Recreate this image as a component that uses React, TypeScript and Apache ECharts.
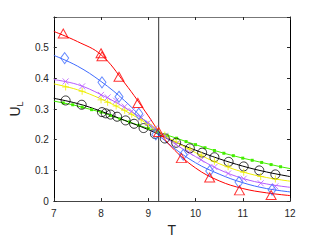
import React, { useEffect, useRef } from "react";
import * as echarts from "echarts";

const xTicks = [7, 8, 9, 10, 11, 12];
const yTicks = [0, 0.1, 0.2, 0.3, 0.4, 0.5, 0.6];
const criticalT = 9.22;

const fitT = [7, 7.5, 8, 8.5, 9, 9.2, 9.5, 10, 10.5, 11, 11.5, 12];
const redFit = [0.553, 0.52, 0.477, 0.385, 0.278, 0.232, 0.175, 0.108, 0.066, 0.041, 0.027, 0.018];
const blueFit = [0.475, 0.44, 0.39, 0.327, 0.25, 0.218, 0.178, 0.125, 0.088, 0.06, 0.041, 0.03];
const purpleFit = [0.396, 0.38, 0.347, 0.305, 0.255, 0.228, 0.193, 0.145, 0.103, 0.074, 0.056, 0.045];
const yellowFit = [0.382, 0.363, 0.333, 0.295, 0.25, 0.228, 0.2, 0.158, 0.122, 0.095, 0.077, 0.065];
const blackFit = [0.335, 0.318, 0.293, 0.263, 0.233, 0.219, 0.197, 0.166, 0.138, 0.114, 0.095, 0.08];

const redPts = [[7.2, 0.546], [8.0, 0.482], [8.02, 0.472], [8.38, 0.405], [8.78, 0.32], [9.22, 0.225], [9.7, 0.14], [10.3, 0.077], [10.93, 0.035], [11.6, 0.02]];
const bluePts = [[7.23, 0.466], [8.02, 0.387], [8.38, 0.34], [8.8, 0.285], [9.16, 0.217], [9.74, 0.151], [10.3, 0.098], [10.92, 0.062], [11.62, 0.037]];
const purplePts = [[7.25, 0.39], [7.6, 0.374], [8.0, 0.346], [8.14, 0.338], [8.32, 0.327], [8.5, 0.308], [8.65, 0.293], [8.85, 0.272], [9.0, 0.255], [9.14, 0.237], [9.35, 0.213], [9.59, 0.186], [9.88, 0.158], [10.12, 0.135], [10.4, 0.111], [10.69, 0.09], [11.02, 0.073], [11.38, 0.058], [11.69, 0.048]];
const yellowPts = [[7.25, 0.372], [7.6, 0.358], [8.0, 0.33], [8.14, 0.322], [8.32, 0.31], [8.5, 0.296], [8.65, 0.283], [8.85, 0.265], [9.0, 0.25], [9.14, 0.235], [9.35, 0.215], [9.59, 0.193], [9.88, 0.17], [10.12, 0.15], [10.4, 0.13], [10.69, 0.112], [11.02, 0.094], [11.38, 0.08], [11.69, 0.072]];
const blackPts = [[7.25, 0.328], [7.59, 0.314], [8.02, 0.29], [8.1, 0.286], [8.2, 0.282], [8.34, 0.275], [8.52, 0.263], [8.7, 0.252], [8.9, 0.238], [9.14, 0.219], [9.35, 0.204], [9.59, 0.19], [9.88, 0.172], [10.14, 0.158], [10.4, 0.143], [10.7, 0.128], [11.02, 0.113], [11.35, 0.1], [11.69, 0.087]];

const greenT = [7.0, 7.2, 7.4, 7.6, 7.8, 8.0, 8.2, 8.4, 8.6, 8.8, 9.0, 9.2, 9.4, 9.6, 9.8, 10.0, 10.2, 10.4, 10.6, 10.8, 11.0, 11.2, 11.4, 11.6, 11.8, 12.0];
const greenU = [0.326, 0.32, 0.314, 0.306, 0.298, 0.29, 0.279, 0.268, 0.258, 0.247, 0.237, 0.226, 0.215, 0.205, 0.194, 0.184, 0.174, 0.165, 0.156, 0.148, 0.14, 0.133, 0.126, 0.119, 0.112, 0.106];

const RED = "#ff0000";
const BLUE = "#3f6bff";
const PURPLE = "#b65cff";
const YELLOW = "#eeee00";
const GREEN = "#44ee00";
const BLACK = "#000000";
const FONT = "Liberation Sans";
const TXT = "#262626";

const X_SYM = "path://M0,0L10,10M10,0L0,10";
const PLUS_SYM = "path://M5,0L5,10M0,5L10,5";

function fit(vals: number[], color: string) {
  return {
    type: "line",
    data: fitT.map((t, i) => [t, vals[i]]),
    smooth: 0.4,
    showSymbol: false,
    symbol: "none",
    lineStyle: { color, width: 1 },
    silent: true,
    z: 2,
  };
}

function pts(data: number[][], color: string, symbol: string, size: any, bw = 1) {
  return {
    type: "scatter",
    data,
    symbol,
    symbolSize: size,
    itemStyle: { color: "rgba(0,0,0,0)", borderColor: color, borderWidth: bw },
    z: 3,
  };
}

export default function App() {
  const ref = useRef<HTMLDivElement>(null);
  useEffect(() => {
    if (!ref.current) return;
    const chart = echarts.init(ref.current, undefined, { renderer: "svg" });
    const axisCommon = {
      type: "value",
      splitLine: { show: false },
      axisTick: { show: true, inside: true, length: 3, lineStyle: { color: "#262626" } },
    };
    chart.setOption({
      animation: false,
      backgroundColor: "#ffffff",
      grid: { left: 48, top: 17, width: 242, height: 189 },
      xAxis: [
        {
          ...axisCommon,
          min: xTicks[0],
          max: xTicks[xTicks.length - 1],
          interval: 1,
          position: "bottom",
          axisLine: { show: true, onZero: false, lineStyle: { color: "#444", width: 1 } },
          axisLabel: { color: TXT, fontFamily: FONT, fontSize: 10, margin: 7 },
          name: "T",
          nameLocation: "middle",
          nameGap: 21,
          nameTextStyle: { color: TXT, fontFamily: FONT, fontSize: 14 },
        },
        {
          ...axisCommon,
          min: xTicks[0],
          max: xTicks[xTicks.length - 1],
          interval: 1,
          position: "top",
          axisLine: { show: true, onZero: false, lineStyle: { color: "#777", width: 1 } },
          axisLabel: { show: false },
        },
      ],
      yAxis: [
        {
          ...axisCommon,
          min: yTicks[0],
          max: yTicks[yTicks.length - 1],
          interval: 0.1,
          position: "left",
          axisLine: { show: true, onZero: false, lineStyle: { color: "#000", width: 1 } },
          axisLabel: {
            color: TXT,
            fontFamily: FONT,
            fontSize: 10,
            margin: 5,
            formatter: (v: number) => (Math.abs(v - 0.6) < 1e-9 ? "" : String(Math.round(v * 10) / 10)),
          },
          name: "{u|U}{l|L}",
          nameLocation: "middle",
          nameRotate: 90,
          nameGap: 29,
          nameTextStyle: {
            color: TXT,
            fontFamily: FONT,
            rich: {
              u: { fontSize: 14, fontFamily: FONT, color: TXT, verticalAlign: "bottom", lineHeight: 16 },
              l: { fontSize: 9, fontFamily: FONT, color: TXT, verticalAlign: "bottom", lineHeight: 16, padding: [0, 0, -2, 0] },
            },
          },
        },
        {
          ...axisCommon,
          min: yTicks[0],
          max: yTicks[yTicks.length - 1],
          interval: 0.1,
          position: "right",
          axisLine: { show: true, onZero: false, lineStyle: { color: "#000", width: 1 } },
          axisLabel: { show: false },
        },
      ],
      series: [
        {
          type: "line",
          data: [[criticalT, yTicks[0]], [criticalT, yTicks[yTicks.length - 1]]],
          symbol: "none",
          lineStyle: { color: "#333", width: 1 },
          z: 1,
        },
        {
          type: "line",
          data: greenT.map((t, i) => ({
            value: [t, greenU[i]],
            symbol: i === 0 || i === greenT.length - 1 ? "none" : "rect",
          })),
          symbolSize: 3,
          showSymbol: true,
          lineStyle: { color: GREEN, width: 1 },
          itemStyle: { color: GREEN },
          z: 2,
        },
        fit(blackFit, BLACK),
        fit(yellowFit, YELLOW),
        fit(purpleFit, PURPLE),
        fit(blueFit, BLUE),
        fit(redFit, RED),
        pts(blackPts, BLACK, "circle", 9),
        pts(yellowPts, YELLOW, PLUS_SYM, 7),
        pts(purplePts, PURPLE, X_SYM, 6),
        pts(bluePts, BLUE, "diamond", [8, 11]),
        pts(redPts, RED, "triangle", [10, 9]),
      ],
    });
    return () => chart.dispose();
  }, []);
  return <div ref={ref} style={{ width: 321, height: 242, position: "absolute", left: 0, top: 0 }} />;
}
